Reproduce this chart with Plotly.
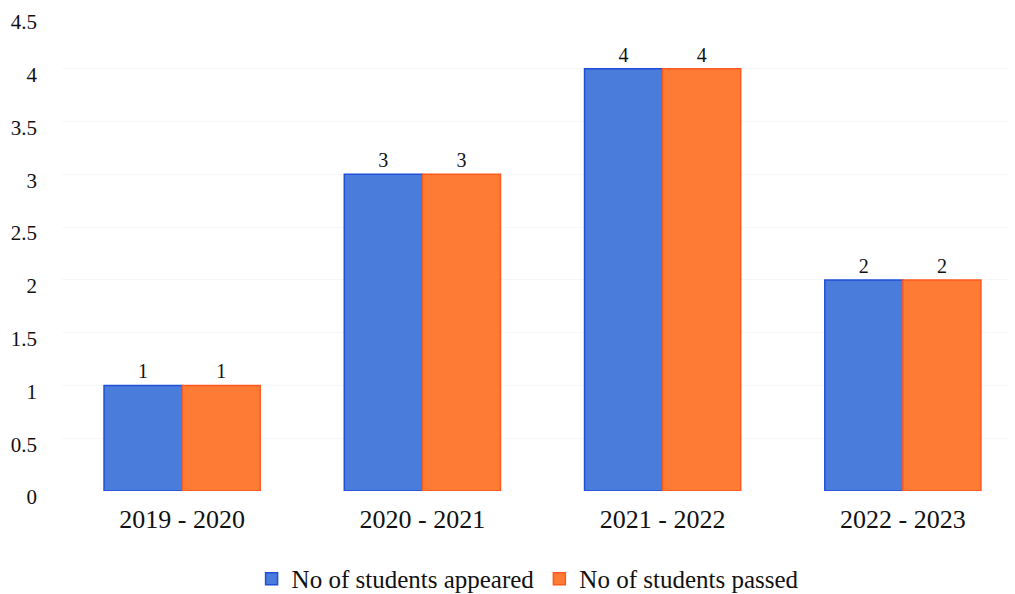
import plotly.graph_objects as go

# ── données ──────────────────────────────────────────────────────────────────
years = ['2019 - 2020', '2020 - 2021', '2021 - 2022', '2022 - 2023']
appeared = [1, 3, 4, 2]
passed = [1, 3, 4, 2]
y_ticks = [0, 0.5, 1, 1.5, 2, 2.5, 3, 3.5, 4, 4.5]
y_labels = ['0', '0.5', '1', '1.5', '2', '2.5', '3', '3.5', '4', '4.5']

SERIF = 'Liberation Serif'

fig = go.Figure()
fig.add_trace(go.Bar(
    x=years, y=appeared, name='No of students appeared',
    marker=dict(color='#4A7CDB', line=dict(color='#1E4FD6', width=1.5)),
    texttemplate='%{y}', textposition='outside', cliponaxis=False,
    textfont=dict(family=SERIF, size=20, color='#111'),
))
fig.add_trace(go.Bar(
    x=years, y=passed, name='No of students passed',
    marker=dict(color='#FE7B36', line=dict(color='#FF5A1E', width=1.5)),
    texttemplate='%{y}', textposition='outside', cliponaxis=False,
    textfont=dict(family=SERIF, size=20, color='#111'),
))

fig.update_layout(
    width=1015, height=594,
    margin=dict(l=54, r=0, t=8, b=104),
    paper_bgcolor='white', plot_bgcolor='white',
    barmode='group', bargap=0.35, bargroupgap=0,
    font=dict(family=SERIF, color='#111'),
    legend=dict(
        orientation='h', x=0.485, xanchor='center', y=-0.185, yanchor='middle',
        font=dict(family=SERIF, size=25), itemwidth=30,
    ),
)
# étiquettes légèrement sous les lignes, comme sur l'original
fig.update_yaxes(
    range=[0, 4.5], tickvals=y_ticks, ticktext=y_labels, automargin=False,
    showgrid=True, gridcolor='rgba(0,0,0,0.03)', zeroline=False,
    tickfont=dict(family=SERIF, size=21), ticklabelstandoff=24,
    ticklabelshift=6, ticklabeloverflow='allow',
)
fig.update_xaxes(
    showline=False, ticks='', tickfont=dict(family=SERIF, size=26),
    ticklabelstandoff=10, automargin=False,
)

fig.write_html("out.html")
